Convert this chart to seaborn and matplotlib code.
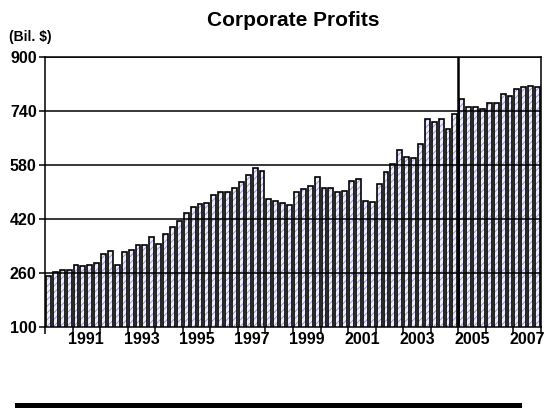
import matplotlib
matplotlib.use("Agg")
import matplotlib.pyplot as plt
import seaborn as sns
from matplotlib.patches import Rectangle

sns.set_style("white")
plt.rcParams["font.family"] = ["Liberation Sans", "DejaVu Sans"]
plt.rcParams["font.weight"] = "bold"
plt.rcParams["text.color"] = "black"
plt.rcParams["xtick.color"] = "black"
plt.rcParams["ytick.color"] = "black"
plt.rcParams["hatch.linewidth"] = 0.6

# Quarterly corporate profits, billions of dollars, 1990Q1 - 2007Q4
years = list(range(1990, 2008))
quarters = ["Q1", "Q2", "Q3", "Q4"]
profits = [
    249, 263, 267, 267,   # 1990
    284, 279, 284, 289,   # 1991
    317, 325, 284, 321,   # 1992
    328, 343, 343, 367,   # 1993
    346, 375, 396, 413,   # 1994
    438, 455, 463, 467,   # 1995
    492, 500, 500, 512,   # 1996
    529, 550, 571, 562,   # 1997
    478, 472, 467, 460,   # 1998
    500, 509, 516, 545,   # 1999
    511, 511, 501, 504,   # 2000
    533, 537, 474, 469,   # 2001
    524, 560, 582, 624,   # 2002
    603, 599, 641, 715,   # 2003
    707, 715, 685, 732,   # 2004
    774, 753, 753, 747,   # 2005
    764, 764, 789, 785,   # 2006
    806, 810, 815, 810,   # 2007
]
period_labels = [f"{y}{q}" for y in years for q in quarters]
year_labels = ["1991", "1993", "1995", "1997", "1999", "2001", "2003", "2005", "2007"]
y_ticks = [100, 260, 420, 580, 740, 900]
marker_period = "2005Q1"

fig = plt.figure(figsize=(5.46, 4.08), dpi=100)
ax = fig.add_axes([45 / 546, 1 - 326.7 / 408, 496 / 546, (326.7 - 57) / 408])

# hatched lavender fill layer
sns.barplot(x=period_labels, y=profits, ax=ax, color="#ececf8", width=0.7,
            edgecolor="#8e8ed6", linewidth=0, hatch="/////", zorder=1)
# black outline layer
sns.barplot(x=period_labels, y=profits, ax=ax, fill=False, color="black",
            width=0.7, linewidth=1.2, zorder=1.5)

ax.set_xlim(-0.5, len(period_labels) - 0.5)
ax.set_ylim(y_ticks[0], y_ticks[-1])
ax.set_xlabel("")
ax.set_ylabel("")

# horizontal grid lines over the bars
ax.set_yticks(y_ticks)
ax.set_yticklabels([str(v) for v in y_ticks], fontsize=11.5, fontweight="bold")
for v in y_ticks[1:]:
    ax.axhline(v, color="black", linewidth=1.1, zorder=3)

# year boundary ticks and centred labels on odd years
boundaries = [4 * i - 0.5 for i in range(len(years) + 1)]
ax.set_xticks(boundaries)
ax.set_xticklabels([""] * len(boundaries))
centers = [period_labels.index(f"{y}Q1") + 1.5 for y in year_labels]
ax.set_xticks(centers, minor=True)
ax.set_xticklabels(year_labels, minor=True, fontsize=11.5, fontweight="bold")
ax.tick_params(axis="x", which="major", direction="out", length=5, width=1.1,
               color="black", bottom=True)
ax.tick_params(axis="x", which="minor", length=0, pad=4)
ax.tick_params(axis="y", direction="out", length=4, width=1.1, color="black",
               left=True, pad=2)

# vertical marker line before 2005
ax.axvline(period_labels.index(marker_period) - 0.5, color="black",
           linewidth=1.8, zorder=4)

for side in ["left", "right", "top", "bottom"]:
    ax.spines[side].set_visible(True)
    ax.spines[side].set_color("black")
    ax.spines[side].set_linewidth(1.1)
    ax.spines[side].set_zorder(5)

fig.text(293 / 546, 1 - 20 / 408, "Corporate Profits", ha="center", va="center",
         fontsize=15, fontweight="bold", color="black")
fig.text(9 / 546, 1 - 37 / 408, "(Bil. $)", ha="left", va="center",
         fontsize=10, fontweight="bold", color="black")

# rule along the bottom edge
fig.add_artist(Rectangle((15 / 546, 0), 507 / 546, 4.8 / 408,
                         transform=fig.transFigure, color="black", lw=0))

fig.savefig("out.png", dpi=100)
